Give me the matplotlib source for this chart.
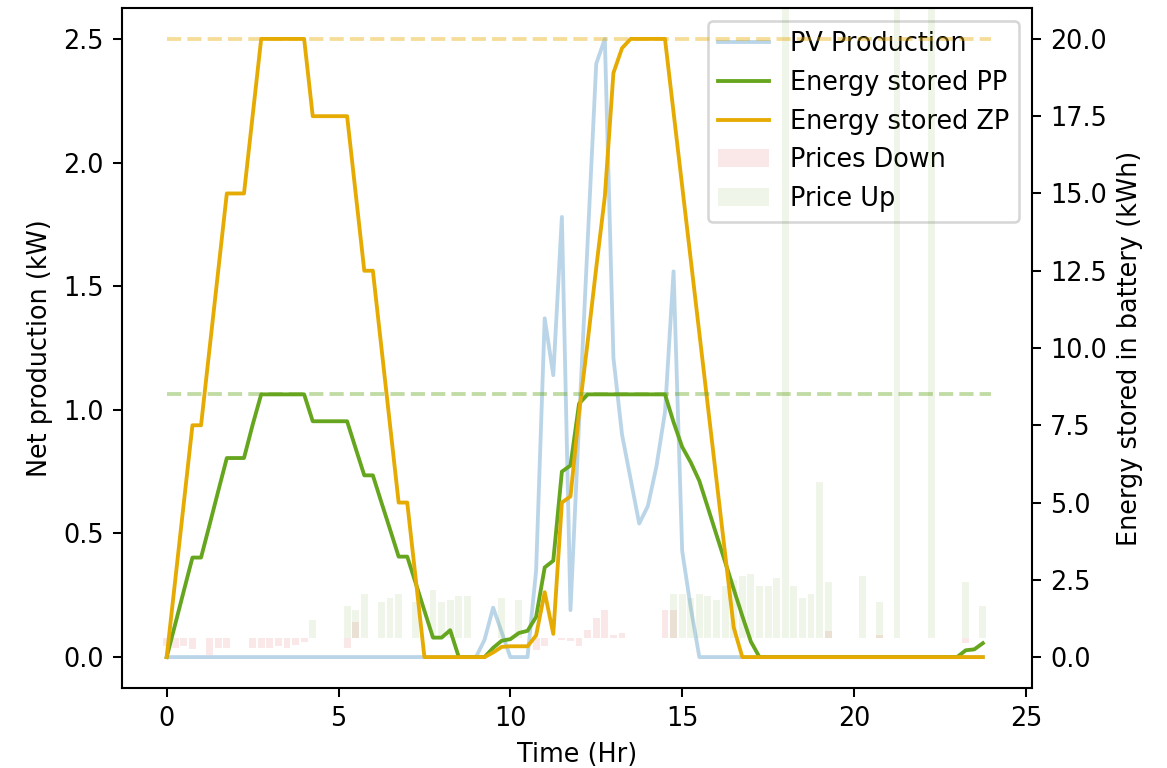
import numpy as np
import matplotlib
matplotlib.use('Agg')
import matplotlib.pyplot as plt

############################################
### battery schedule, one day at 15 min ###
############################################

hours = np.arange(96) * 0.25

# PV production (kW)
pv = [0, 0, 0, 0, 0, 0, 0, 0,
      0, 0, 0, 0, 0, 0, 0, 0,
      0, 0, 0, 0, 0, 0, 0, 0,
      0, 0, 0, 0, 0, 0, 0, 0,
      0, 0, 0, 0, 0, 0.07, 0.2, 0.1,
      0, 0, 0, 0.35, 1.37, 1.14, 1.78, 0.19,
      0.95, 1.68, 2.4, 2.5, 1.21, 0.9, 0.72, 0.54,
      0.61, 0.77, 0.99, 1.56, 0.43, 0.2, 0, 0,
      0, 0, 0, 0, 0, 0, 0, 0,
      0, 0, 0, 0, 0, 0, 0, 0,
      0, 0, 0, 0, 0, 0, 0, 0,
      0, 0, 0, 0, 0, 0, 0, 0]

# energy in battery (kWh), PP strategy
stored_pp = [0, 1.07, 2.15, 3.22, 3.22, 4.29, 5.37, 6.44,
             6.44, 6.44, 7.51, 8.5, 8.5, 8.5, 8.5, 8.5,
             8.5, 7.63, 7.63, 7.63, 7.63, 7.63, 6.75, 5.88,
             5.88, 5.0, 4.13, 3.25, 3.25, 2.38, 1.5, 0.63,
             0.63, 0.87, 0, 0, 0, 0, 0.3, 0.53,
             0.58, 0.78, 0.85, 1.3, 2.9, 3.12, 6.0, 6.2,
             8.2, 8.5, 8.5, 8.5, 8.5, 8.5, 8.5, 8.5,
             8.5, 8.5, 8.5, 7.6, 6.8, 6.3, 5.7, 4.83,
             3.95, 3.08, 2.2, 1.33, 0.5, 0, 0, 0,
             0, 0, 0, 0, 0, 0, 0, 0,
             0, 0, 0, 0, 0, 0, 0, 0,
             0, 0, 0, 0, 0, 0.22, 0.25, 0.45]

# energy in battery (kWh), ZP strategy
stored_zp = [0, 2.5, 5, 7.5, 7.5, 10, 12.5, 15,
             15, 15, 17.5, 20, 20, 20, 20, 20,
             20, 17.5, 17.5, 17.5, 17.5, 17.5, 15, 12.5,
             12.5, 10, 7.5, 5, 5, 2.5, 0, 0,
             0, 0, 0, 0, 0, 0, 0.15, 0.33,
             0.35, 0.35, 0.35, 0.7, 2.1, 0.75, 5.0, 5.2,
             7.9, 10.2, 12.6, 14.9, 18.9, 19.7, 20, 20,
             20, 20, 20, 17.62, 15.24, 12.86, 10.48, 8.1,
             5.72, 3.34, 0.96, 0, 0, 0, 0, 0,
             0, 0, 0, 0, 0, 0, 0, 0,
             0, 0, 0, 0, 0, 0, 0, 0,
             0, 0, 0, 0, 0, 0, 0, 0]

# regulation prices
price_down = [-2, -2.5, -2, -2.75, 0, -4.25, -2.5, -2.5,
              0, 0, -2.5, -2.5, -2.5, -2, -2.5, -1.75,
              -1, 0, 0, 0, 0, -2.5, 4, 0,
              0, 0, 0, 0, 0, 0, 0, 0,
              0, 0, 0, 0, 0, 0, 0, 0,
              0, 0, 0, -3, -2, 0, -0.5, -0.75,
              -2, 2, 5, 7, 0.75, 1.25, 0, 0,
              0, 0, 7, 7, 0, 0, 0, 0,
              0, 0, 0, 0, 0, 0, 0, 0,
              0, 0, 0, 0, 0, 1.75, 0, 0,
              0, 0, 0, 0.75, 0, 0, 0, 0,
              0, 0, 0, 0, 0, -1.25, 0, 0]

price_up = [0, 0, 0, 0, 0, 0, 0, 0,
            0, 0, 0, 0, 0, 0, 0, 0,
            0, 4.5, 0, 0, 0, 8, 7, 11,
            0, 9, 10, 11, 0, 9, 0, 12,
            9, 9.5, 10.5, 10.5, 0, 0, 0, 10,
            0, 9.5, 0, 0, 0, 0, 0, 0,
            0, 0, 0, 0, 0, 0, 0, 0,
            0, 0, 0, 11, 11, 10, 11, 10.5,
            9.5, 13, 14.5, 15.5, 16, 13, 13, 15,
            200, 13, 10, 11, 39, 14, 0, 0,
            0, 15.5, 0, 9, 0, 200, 0, 0,
            0, 200, 0, 0, 0, 14, 0, 8]

cap_pp = 8.5
cap_zp = 20

c_pp = '#66a61e'
c_zp = '#e6ab02'
c_down = 'tab:red'

fig = plt.figure(figsize=(1167 / 184, 768 / 184), dpi=184)
ax = fig.add_subplot(111)
fig.subplots_adjust(left=122 / 1167, right=1032 / 1167, bottom=80 / 768, top=760 / 768)

### net production
l1, = ax.plot(hours, pv, color='tab:blue', alpha=0.3, label='PV Production')
ax.set_ylim(-0.125, 2.625)
ax.set_xlim(-1.3, 25.18)
ax.set_xlabel('Time (Hr)')
ax.set_ylabel('Net production (kW)')

### prices, own hidden scale
ax3 = ax.twinx()
b1 = ax3.bar(hours, price_down, width=0.2, color=c_down, alpha=0.1, label='Prices Down')
b2 = ax3.bar(hours, price_up, width=0.2, color=c_pp, alpha=0.1, label='Price Up')
ax3.set_ylim(-12.5, 157.5)
ax3.axis('off')

### battery
ax2 = ax.twinx()
l2, = ax2.plot(hours, stored_pp, color=c_pp, label='Energy stored PP')
l3, = ax2.plot(hours, stored_zp, color=c_zp, label='Energy stored ZP')
ax2.hlines(cap_pp, 0, 24, colors=c_pp, linestyles='--', alpha=0.4)
ax2.hlines(cap_zp, 0, 24, colors=c_zp, linestyles='--', alpha=0.4)
ax2.set_ylim(-1, 21)
ax2.set_ylabel('Energy stored in battery (kWh)')

ax.legend([l1, l2, l3, b1, b2],
          ['PV Production', 'Energy stored PP', 'Energy stored ZP', 'Prices Down', 'Price Up'],
          loc='upper right')

plt.savefig('out.png', dpi=184)
plt.close()
